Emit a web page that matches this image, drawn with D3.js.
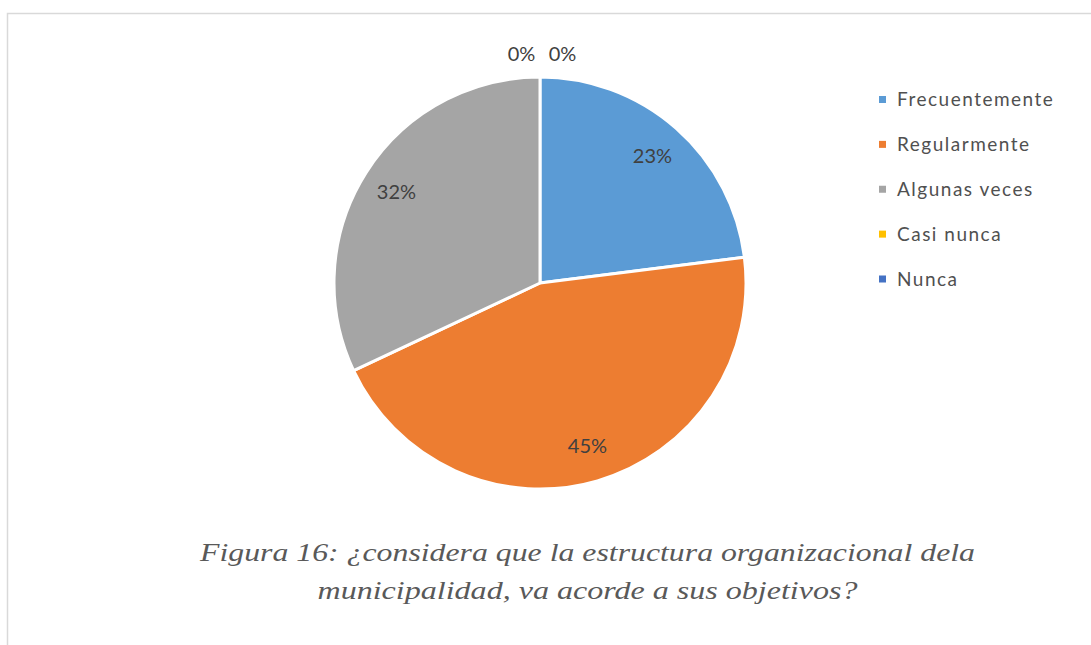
<!DOCTYPE html>
<html>
<head>
<meta charset="utf-8">
<script src="https://cdn.jsdelivr.net/npm/d3@7"></script>
<style>
  html, body { margin: 0; padding: 0; background: #ffffff; }
  svg { display: block; }
  .caption { font-family: "Liberation Serif", "Times New Roman", "DejaVu Serif", serif; font-style: italic; }
</style>
</head>
<body>
<svg id="chart" width="1091" height="645"></svg>
<script>
// Survey answers and their shares (%)
const categories = ["Frecuentemente", "Regularmente", "Algunas veces", "Casi nunca", "Nunca"];
const shares = [23, 45, 32, 0, 0];
const colors = ["#5B9BD5", "#ED7D31", "#A5A5A5", "#FFC000", "#4472C4"];
const titleLines = [
  "Figura 16: ¿considera que la estructura organizacional dela",
  "municipalidad, va acorde a sus objetivos?"
];

const svg = d3.select("#chart");
const W = 1091, H = 645;

svg.append("rect").attr("width", W).attr("height", H).attr("fill", "#fff");

// chart frame (open to the right and bottom edges)
svg.append("rect")
  .attr("x", 7.5).attr("y", 13.5)
  .attr("width", 1200).attr("height", 800)
  .attr("fill", "none")
  .attr("stroke", "#d9d9d9")
  .attr("stroke-width", 1.5);

const cx = 540, cy = 283, r = 206;
const data = categories.map((c, i) => ({ cat: c, value: shares[i], color: colors[i] }));

const pie = d3.pie().sort(null).value(d => d.value);
const arcs = pie(data);
const arc = d3.arc().innerRadius(0).outerRadius(r);
const labelArc = d3.arc().innerRadius(170).outerRadius(170);

const g = svg.append("g").attr("transform", `translate(${cx},${cy})`);

g.selectAll("path.slice")
  .data(arcs.filter(a => a.value > 0))
  .join("path")
  .attr("class", "slice")
  .attr("d", arc)
  .attr("fill", d => d.data.color)
  .attr("stroke", "#fff")
  .attr("stroke-width", 3)
  .attr("stroke-linejoin", "round");

const labelFont = "Lato, 'Open Sans', sans-serif";

// labels inside non-empty slices
g.selectAll("text.inlabel")
  .data(arcs.filter(a => a.value > 0))
  .join("text")
  .attr("class", "inlabel")
  .attr("transform", d => `translate(${labelArc.centroid(d)})`)
  .attr("text-anchor", "middle")
  .attr("dy", "0.36em")
  .attr("font-family", labelFont)
  .attr("font-size", 20)
  .attr("fill", "#404040")
  .text(d => d.data.value + "%");

// empty slices get their labels just outside the rim, spread sideways
const zeros = arcs.filter(a => a.value === 0);
const outerR = r + 23.5;
g.selectAll("text.outlabel")
  .data(zeros)
  .join("text")
  .attr("class", "outlabel")
  .attr("x", (d, i) => Math.sin(d.startAngle) * outerR + (i - (zeros.length - 1) / 2) * 41 + 2)
  .attr("y", d => -Math.cos(d.startAngle) * outerR)
  .attr("text-anchor", "middle")
  .attr("dy", "0.36em")
  .attr("font-family", labelFont)
  .attr("font-size", 20)
  .attr("fill", "#404040")
  .text(d => d.data.value + "%");

// legend
const legendY = d3.scalePoint().domain(categories).range([99.5, 279]);
const lg = svg.append("g");
const items = lg.selectAll("g").data(data).join("g")
  .attr("transform", d => `translate(879,${legendY(d.cat)})`);
items.append("rect")
  .attr("x", 0).attr("y", -3.5).attr("width", 7).attr("height", 7)
  .attr("fill", d => d.color);
items.append("text")
  .attr("x", 18).attr("y", 0).attr("dy", "0.36em")
  .attr("font-family", labelFont)
  .attr("font-size", 19)
  .attr("letter-spacing", 1.5)
  .attr("fill", "#505050")
  .text(d => d.cat);

// caption
const tLens = [775, 540];
svg.selectAll("text.caption")
  .data(titleLines)
  .join("text")
  .attr("class", "caption")
  .attr("x", 587.5)
  .attr("y", (d, i) => 561 + i * 38)
  .attr("text-anchor", "middle")
  .attr("font-size", 25)
  .attr("fill", "#595959")
  .attr("textLength", (d, i) => tLens[i])
  .attr("lengthAdjust", "spacingAndGlyphs")
  .text(d => d);
</script>
</body>
</html>
